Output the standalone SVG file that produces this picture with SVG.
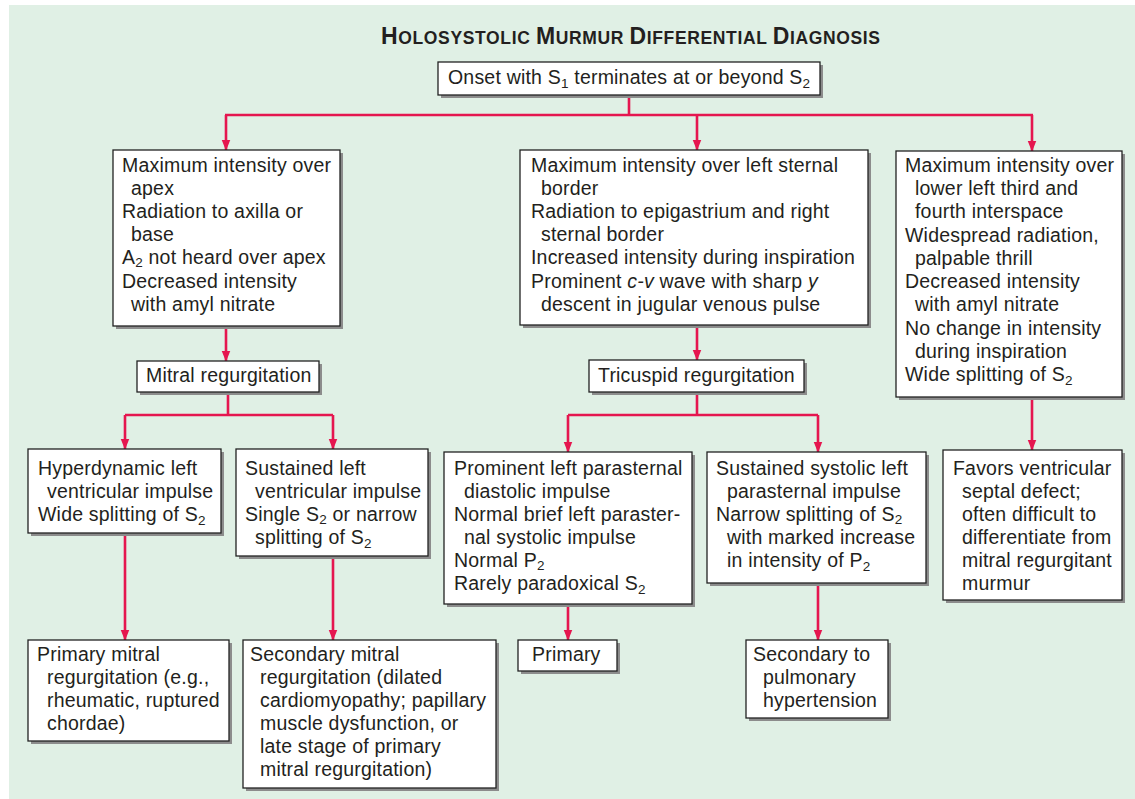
<svg xmlns="http://www.w3.org/2000/svg" width="1135" height="799" viewBox="0 0 1135 799">
<defs>
<style>
.bg{fill:#e0f0e5}
.box{fill:#fff;stroke:#222;stroke-width:1.3}
.sh{fill:#8c8c8c}
.t{font-family:"Liberation Sans",Arial,sans-serif;font-size:19.5px;fill:#231f20;letter-spacing:0.2px}
.sub{font-size:13.5px}
.title{font-family:"Liberation Sans",Arial,sans-serif;font-weight:bold;fill:#231f20}
.c{fill:none;stroke:#e5164f;stroke-width:2.6}
</style>
<marker id="ad" markerUnits="userSpaceOnUse" markerWidth="11" markerHeight="14" refX="13" refY="5.5" orient="auto" viewBox="0 0 14 11">
<path d="M0,0 L14,5.5 L0,11 Z" fill="#e5164f"/>
</marker>
</defs>
<rect x="0" y="0" width="1135" height="799" fill="#fff"/>
<rect class="bg" x="9" y="5" width="1126" height="794"/>

<text class="title" x="381" y="44" textLength="499" lengthAdjust="spacing"><tspan font-size="23">H</tspan><tspan font-size="17.5">OLOSYSTOLIC </tspan><tspan font-size="23">M</tspan><tspan font-size="17.5">URMUR </tspan><tspan font-size="23">D</tspan><tspan font-size="17.5">IFFERENTIAL </tspan><tspan font-size="23">D</tspan><tspan font-size="17.5">IAGNOSIS</tspan></text>

<g id="connectors">
<path class="c" d="M629,95 V115 M225,115 H1033"/>
<path class="c" d="M226,115 V150" marker-end="url(#ad)"/>
<path class="c" d="M697,115 V150" marker-end="url(#ad)"/>
<path class="c" d="M1032,115 V151" marker-end="url(#ad)"/>
<path class="c" d="M226,326 V361" marker-end="url(#ad)"/>
<path class="c" d="M228,392 V415 M125,415 H333"/>
<path class="c" d="M125,415 V449" marker-end="url(#ad)"/>
<path class="c" d="M333,415 V449" marker-end="url(#ad)"/>
<path class="c" d="M125,533 V640" marker-end="url(#ad)"/>
<path class="c" d="M333,556 V640" marker-end="url(#ad)"/>
<path class="c" d="M697,325 V360" marker-end="url(#ad)"/>
<path class="c" d="M697,392 V415 M568,415 H818"/>
<path class="c" d="M568,415 V452" marker-end="url(#ad)"/>
<path class="c" d="M818,415 V452" marker-end="url(#ad)"/>
<path class="c" d="M568,604 V640" marker-end="url(#ad)"/>
<path class="c" d="M818,583 V640" marker-end="url(#ad)"/>
<path class="c" d="M1032,397 V450" marker-end="url(#ad)"/>
</g>

<g id="onset">
<rect class="sh" x="441" y="65" width="382" height="33"/>
<rect class="box" x="438" y="62" width="382" height="33"/>
<text class="t" x="448" y="84">Onset with S<tspan class="sub" dy="4">1</tspan><tspan dy="-4"> terminates at or beyond S</tspan><tspan class="sub" dy="4">2</tspan></text>
</g>

<g id="mr-features">
<rect class="sh" x="116" y="153" width="227" height="176"/>
<rect class="box" x="113" y="150" width="227" height="176"/>
<text class="t"><tspan x="122" y="172">Maximum intensity over</tspan><tspan x="131" y="195">apex</tspan><tspan x="122" y="218">Radiation to axilla or</tspan><tspan x="131" y="241">base</tspan><tspan x="122" y="264">A</tspan><tspan class="sub" dy="3">2</tspan><tspan dy="-3"> not heard over apex</tspan><tspan x="122" y="288">Decreased intensity</tspan><tspan x="131" y="311">with amyl nitrate</tspan></text>
</g>

<g id="tr-features">
<rect class="sh" x="523" y="153" width="348" height="175"/>
<rect class="box" x="520" y="150" width="348" height="175"/>
<text class="t"><tspan x="531" y="172">Maximum intensity over left sternal</tspan><tspan x="541" y="195">border</tspan><tspan x="531" y="218">Radiation to epigastrium and right</tspan><tspan x="541" y="241">sternal border</tspan><tspan x="531" y="264">Increased intensity during inspiration</tspan><tspan x="531" y="288">Prominent <tspan font-style="italic">c-v</tspan> wave with sharp <tspan font-style="italic">y</tspan></tspan><tspan x="541" y="311">descent in jugular venous pulse</tspan></text>
</g>

<g id="vsd-features">
<rect class="sh" x="899" y="154" width="226" height="246"/>
<rect class="box" x="896" y="151" width="226" height="246"/>
<text class="t"><tspan x="905" y="172">Maximum intensity over</tspan><tspan x="915" y="195">lower left third and</tspan><tspan x="915" y="218">fourth interspace</tspan><tspan x="905" y="242">Widespread radiation,</tspan><tspan x="915" y="265">palpable thrill</tspan><tspan x="905" y="288">Decreased intensity</tspan><tspan x="915" y="311">with amyl nitrate</tspan><tspan x="905" y="335">No change in intensity</tspan><tspan x="915" y="358">during inspiration</tspan><tspan x="905" y="381">Wide splitting of S</tspan><tspan class="sub" dy="4">2</tspan></text>
</g>

<g id="mitral">
<rect class="sh" x="140" y="364" width="182" height="31"/>
<rect class="box" x="137" y="361" width="182" height="31"/>
<text class="t" x="146" y="382">Mitral regurgitation</text>
</g>

<g id="tricuspid">
<rect class="sh" x="592" y="363" width="215" height="32"/>
<rect class="box" x="589" y="360" width="215" height="32"/>
<text class="t" x="598" y="382">Tricuspid regurgitation</text>
</g>

<g id="hyperdynamic">
<rect class="sh" x="31" y="452" width="193" height="84"/>
<rect class="box" x="28" y="449" width="193" height="84"/>
<text class="t"><tspan x="38" y="475">Hyperdynamic left</tspan><tspan x="47" y="498">ventricular impulse</tspan><tspan x="38" y="521">Wide splitting of S</tspan><tspan class="sub" dy="4">2</tspan></text>
</g>

<g id="sustained-lv">
<rect class="sh" x="239" y="452" width="192" height="107"/>
<rect class="box" x="236" y="449" width="192" height="107"/>
<text class="t"><tspan x="245" y="475">Sustained left</tspan><tspan x="255" y="498">ventricular impulse</tspan><tspan x="245" y="521">Single S</tspan><tspan class="sub" dy="3">2</tspan><tspan dy="-3"> or narrow</tspan><tspan x="255" y="544">splitting of S</tspan><tspan class="sub" dy="4">2</tspan></text>
</g>

<g id="prominent-lp">
<rect class="sh" x="447" y="455" width="248" height="152"/>
<rect class="box" x="444" y="452" width="248" height="152"/>
<text class="t"><tspan x="454" y="475">Prominent left parasternal</tspan><tspan x="464" y="498">diastolic impulse</tspan><tspan x="454" y="521">Normal brief left paraster-</tspan><tspan x="464" y="544">nal systolic impulse</tspan><tspan x="454" y="567">Normal P</tspan><tspan class="sub" dy="3">2</tspan><tspan x="454" y="590">Rarely paradoxical S</tspan><tspan class="sub" dy="4">2</tspan></text>
</g>

<g id="sustained-sys">
<rect class="sh" x="710" y="455" width="219" height="131"/>
<rect class="box" x="707" y="452" width="219" height="131"/>
<text class="t"><tspan x="716" y="475">Sustained systolic left</tspan><tspan x="727" y="498">parasternal impulse</tspan><tspan x="716" y="521">Narrow splitting of S</tspan><tspan class="sub" dy="3">2</tspan><tspan x="727" y="544">with marked increase</tspan><tspan x="727" y="567">in intensity of P</tspan><tspan class="sub" dy="4">2</tspan></text>
</g>

<g id="vsd">
<rect class="sh" x="946" y="453" width="179" height="150"/>
<rect class="box" x="943" y="450" width="179" height="150"/>
<text class="t"><tspan x="953" y="475">Favors ventricular</tspan><tspan x="962" y="498">septal defect;</tspan><tspan x="962" y="521">often difficult to</tspan><tspan x="962" y="544">differentiate from</tspan><tspan x="962" y="567">mitral regurgitant</tspan><tspan x="962" y="590">murmur</tspan></text>
</g>

<g id="primary-mitral">
<rect class="sh" x="31" y="643" width="201" height="101"/>
<rect class="box" x="28" y="640" width="201" height="101"/>
<text class="t"><tspan x="37" y="661">Primary mitral</tspan><tspan x="47" y="684">regurgitation (e.g.,</tspan><tspan x="47" y="707">rheumatic, ruptured</tspan><tspan x="47" y="730">chordae)</tspan></text>
</g>

<g id="secondary-mitral">
<rect class="sh" x="246" y="643" width="253" height="148"/>
<rect class="box" x="243" y="640" width="253" height="148"/>
<text class="t"><tspan x="250" y="661">Secondary mitral</tspan><tspan x="260" y="684">regurgitation (dilated</tspan><tspan x="260" y="707">cardiomyopathy; papillary</tspan><tspan x="260" y="730">muscle dysfunction, or</tspan><tspan x="260" y="753">late stage of primary</tspan><tspan x="260" y="776">mitral regurgitation)</tspan></text>
</g>

<g id="primary">
<rect class="sh" x="521" y="643" width="99" height="31"/>
<rect class="box" x="518" y="640" width="99" height="31"/>
<text class="t" x="532" y="661">Primary</text>
</g>

<g id="secondary-pulm">
<rect class="sh" x="749" y="643" width="142" height="78"/>
<rect class="box" x="746" y="640" width="142" height="78"/>
<text class="t"><tspan x="753" y="661">Secondary to</tspan><tspan x="763" y="684">pulmonary</tspan><tspan x="763" y="707">hypertension</tspan></text>
</g>
</svg>
